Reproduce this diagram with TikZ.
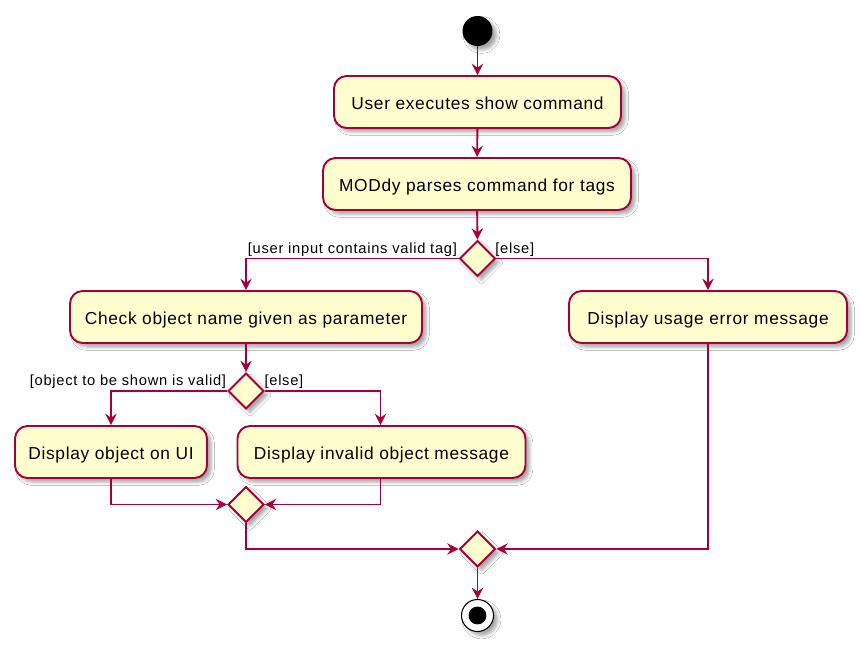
\documentclass[tikz,border=0pt]{standalone}
\usepackage{fontspec}
\setmainfont{Liberation Sans}
\newfontfamily\boxfont{Liberation Sans}[LetterSpace=4]
\newfontfamily\labfont{Liberation Sans}[LetterSpace=5]
\usetikzlibrary{arrows.meta,shapes.geometric,shadows.blur}
\definecolor{umlred}{HTML}{A80036}
\definecolor{umlfill}{HTML}{FEFECE}
\tikzset{
  shad/.style={blur shadow={shadow xshift=3pt,shadow yshift=-3pt,shadow blur radius=2.5pt,shadow opacity=35}},
  actbox/.style={shad,draw=umlred,fill=umlfill,line width=1.45pt,rounded corners=9.5pt,
     minimum height=39pt,inner sep=0pt,text height=12pt,text depth=0.8pt,
     font=\boxfont\fontsize{13pt}{15pt}\selectfont},
  bw/.style={minimum width=#1*0.75pt},
  dec/.style={shad,diamond,aspect=1,draw=umlred,fill=umlfill,line width=1.45pt,
     minimum width=27pt,minimum height=27pt,inner sep=0pt},
  arr/.style={draw=umlred,line width=1.45pt,-{Stealth[length=8.5pt,width=8.5pt,inset=3pt]}},
  lab/.style={inner sep=0pt,font=\labfont\fontsize{11pt}{13pt}\selectfont},
}
\begin{document}
\begin{tikzpicture}[x=0.75pt,y=-0.75pt]
\useasboundingbox[fill=white] (0,0) rectangle (861,645);
\node[shad,circle,fill=black,minimum size=22.5pt,inner sep=0pt] (start) at (477.5,31) {};
\node[actbox,bw=287] (b1) at (477.5,102) {User executes show command};
\node[actbox,bw=308] (b2) at (477,184) {MODdy parses command for tags};
\node[dec] (d1) at (477.5,258.5) {};
\node[actbox,bw=352] (b3) at (246,317) {Check object name given as parameter};
\node[actbox,bw=278] (b4) at (708,317) {Display usage error message};
\node[dec] (d2) at (246,391) {};
\node[actbox,bw=192] (b5) at (111,452) {Display object on UI};
\node[actbox,bw=288] (b6) at (381.5,452) {Display invalid object message};
\node[dec] (d3) at (246,504.5) {};
\node[dec] (d4) at (477.5,549) {};
\node[shad,circle,draw=black,fill=white,line width=0.8pt,minimum size=24pt,inner sep=0pt] (end) at (477.5,615.5) {};
\fill[black] (end.center) circle (6.7pt);

\draw[arr] (start) -- (b1);
\draw[arr] (b1) -- (b2);
\draw[arr] (b2) -- (d1);
\draw[arr] (d1.west) -| (b3.north);
\draw[arr] (d1.east) -| (b4.north);
\draw[arr] (b3) -- (d2);
\draw[arr] (d2.west) -| (b5.north);
\draw[arr] (d2.east) -| ([xshift=-0.75pt]b6.north);
\draw[arr] (b5.south) |- (d3.west);
\draw[arr] ([xshift=-0.75pt]b6.south) |- (d3.east);
\draw[arr] (d3.south) |- (d4.west);
\draw[arr] (b4.south) |- (d4.east);
\draw[arr] (d4) -- (end);

\node[lab,anchor=base east] (l1) at ([xshift=-1pt,yshift=4pt]d1.west) {[user input contains valid tag]};
\node[lab,anchor=base west] (l2) at ([xshift=-1pt,yshift=4pt]d1.east) {[else]};
\node[lab,anchor=base east] (l3) at ([xshift=-0.5pt,yshift=4pt]d2.west) {[object to be shown is valid]};
\node[lab,anchor=base west] (l4) at ([xshift=-0.5pt,yshift=4pt]d2.east) {[else]};
\end{tikzpicture}
\end{document}
